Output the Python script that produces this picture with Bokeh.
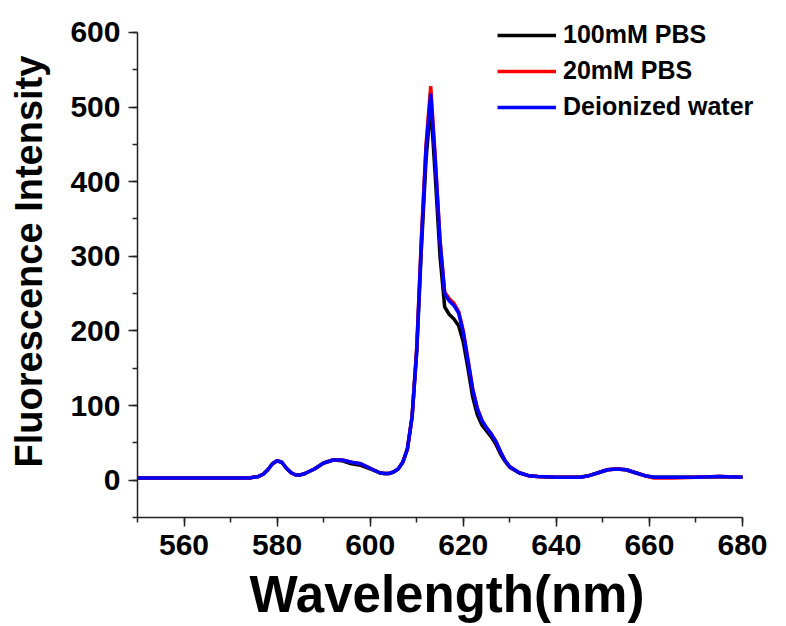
from bokeh.plotting import figure
from bokeh.models import Range1d, FixedTicker, Legend, LegendItem
from bokeh.embed import file_html
from bokeh.resources import INLINE

wavelength = [550, 560, 570, 574, 576, 577, 578, 579, 580, 581, 582, 583, 584, 585, 586,
              588, 590, 592, 594, 596, 598, 600, 602,
              603, 604, 605, 606, 607, 608, 609, 610, 611, 612, 613, 614, 615, 616, 617, 618,
              619, 620, 621, 622, 623, 624, 625, 626, 627, 628, 629, 630,
              632, 634, 636, 640, 645, 647, 649, 651, 653, 655, 657, 659, 661, 665, 670, 675, 680]

pbs_100mM = [3, 3, 3, 3, 5, 8, 14, 22, 26, 24, 16, 10, 7, 7, 9,
             15, 23, 27, 26, 22, 20, 15, 10,
             9, 9, 11, 15, 24, 42, 85, 172, 310, 430, 503, 405, 300, 232, 222, 216,
             207, 185, 150, 112, 88, 74, 66, 58, 48, 35, 25, 17,
             10, 6, 5, 4, 4, 6, 10, 14, 15, 14, 10, 6, 4, 4, 4, 5, 4]

pbs_20mM = [3, 3, 3, 3, 5, 8, 14, 22, 26, 24, 16, 10, 7, 7, 9,
            15, 23, 27, 27, 24, 22, 16, 10,
            9, 9, 11, 15, 24, 42, 85, 178, 325, 450, 528, 430, 322, 252, 243, 237,
            226, 200, 162, 123, 97, 80, 70, 62, 52, 38, 26, 18,
            10, 6, 5, 4, 4, 6, 10, 14, 15, 14, 10, 6, 3, 3, 4, 5, 4]

deionized_water = [3, 3, 3, 3, 5, 8, 14, 22, 26, 24, 16, 10, 7, 7, 9,
                   15, 23, 27, 27, 24, 22, 16, 10,
                   9, 9, 11, 15, 24, 42, 85, 175, 320, 445, 518, 425, 320, 250, 240, 234,
                   224, 198, 160, 122, 96, 80, 70, 62, 52, 38, 26, 18,
                   10, 6, 5, 4, 4, 6, 10, 14, 15, 14, 10, 6, 4, 4, 4, 5, 4]

series_names = ["100mM PBS", "20mM PBS", "Deionized water"]
series_colors = ["#000000", "#ff0000", "#0000ff"]
y_ticks = [0, 100, 200, 300, 400, 500, 600]
x_ticks = [560, 580, 600, 620, 640, 660, 680]

FONT = "Liberation Sans"

# ranges extend a little past the drawn axes so the legend has room inside the frame
p = figure(width=786, height=626, output_backend="svg", toolbar_location=None,
           x_range=Range1d(550, 683), y_range=Range1d(-50, 636),
           min_border_left=137, min_border_right=30, min_border_top=5, min_border_bottom=109)

p.xgrid.visible = False
p.ygrid.visible = False
p.outline_line_color = None
p.background_fill_color = "white"

renderers = []
for ys, c in zip([pbs_100mM, pbs_20mM, deionized_water], series_colors):
    r = p.line(wavelength, ys, line_color=c, line_width=3.5)
    renderers.append(r)

for ax, ticks, minor, bnds in ((p.xaxis[0], x_ticks, [550 + 10 * i for i in range(14)], (550, 680)),
                               (p.yaxis[0], y_ticks, [-50 + 50 * i for i in range(14)], (-50, 600))):
    ax.ticker = FixedTicker(ticks=ticks, minor_ticks=minor)
    ax.bounds = bnds
    ax.axis_line_color = "#222222"
    ax.axis_line_width = 1.5
    ax.major_tick_line_color = "#222222"
    ax.minor_tick_line_color = "#222222"
    ax.major_tick_line_width = 1.5
    ax.minor_tick_line_width = 1.5
    ax.major_tick_out = 9
    ax.major_tick_in = 0
    ax.minor_tick_out = 5
    ax.minor_tick_in = 0
    ax.major_label_text_font = FONT
    ax.major_label_text_font_style = "bold"
    ax.major_label_text_font_size = "30px"
    ax.major_label_text_color = "#000000"
    ax.axis_label_text_font = FONT
    ax.axis_label_text_font_style = "bold"
    ax.axis_label_text_color = "#000000"

p.xaxis.axis_label = "Wavelength(nm)"
p.xaxis.axis_label_text_font_size = "51px"
p.xaxis.major_label_standoff = 8
p.xaxis.axis_label_standoff = 8
p.yaxis.axis_label = "Fluorescence Intensity"
p.yaxis.axis_label_text_font_size = "38px"
p.yaxis.major_label_standoff = 8
p.yaxis.axis_label_standoff = 17

legend = Legend(items=[LegendItem(label=n, renderers=[r]) for n, r in zip(series_names, renderers)],
                location=(360, 396), padding=0, margin=0, spacing=7,
                glyph_width=59, label_standoff=7,
                label_text_font=FONT, label_text_font_style="bold",
                label_text_font_size="25px", label_text_color="#000000",
                border_line_alpha=0, background_fill_alpha=0)
p.add_layout(legend, "center")

open("out.html", "w").write(file_html(p, INLINE))
